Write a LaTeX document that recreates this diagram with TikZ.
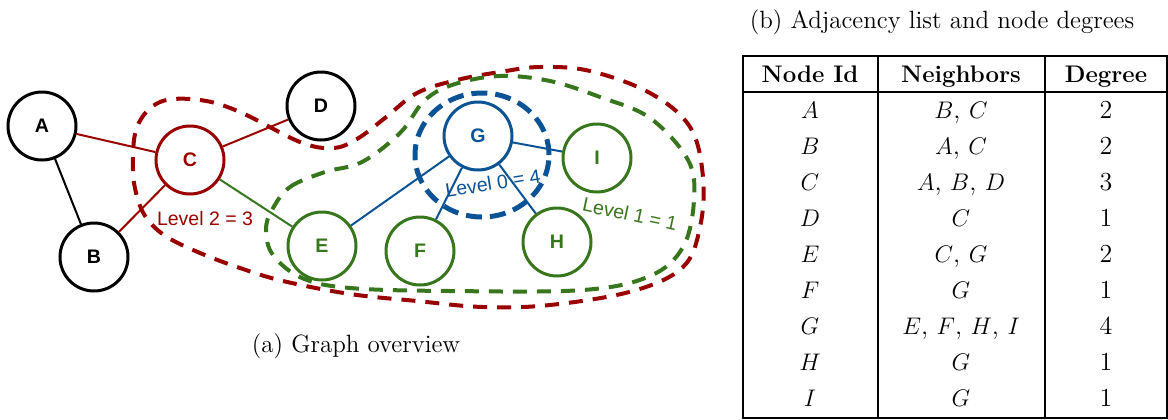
\documentclass[tikz,border=0pt]{standalone}
\usepackage{fontspec}
\setsansfont{Liberation Sans}
\definecolor{dred}{HTML}{990000}
\definecolor{dgreen}{HTML}{38761D}
\definecolor{dblue}{HTML}{0B5394}
\begin{document}
\begin{tikzpicture}[x=0.5pt,y=-0.5pt,
  gnode/.style={circle, draw, line width=1.5pt, minimum size=34pt, inner sep=0pt,
    font=\sffamily\bfseries\fontsize{9.8}{11}\selectfont},
  edge/.style={line width=1pt},
  lvl/.style={font=\sffamily\fontsize{9.75}{11}\selectfont, inner sep=0pt},
  reddash/.style={dred, line width=2pt, dash pattern=on 7pt off 5pt},
  greendash/.style={dgreen, line width=2pt, dash pattern=on 7pt off 5pt},
  bluedash/.style={dblue, line width=2.5pt, dash pattern=on 8pt off 4pt},
  cell/.style={anchor=base, inner sep=0pt, font=\fontsize{13}{15}\selectfont},
  capt/.style={anchor=base, inner sep=0pt, font=\fontsize{12.5}{15}\selectfont},
  hcell/.style={anchor=base, inner sep=0pt, font=\fontsize{12}{14}\selectfont\bfseries},
  tline/.style={line width=0.75pt}
]
\useasboundingbox (0,0) rectangle (1168,419);

% dashed level regions
\draw[reddash] plot[smooth cycle, tension=0.6] coordinates {
 (160,102) (200,100) (240,112) (300,142) (333,148) (357,139) (385,118) (417,93)
 (457,80) (500,72) (540,67) (590,71) (650,93) (690,127) (703,177) (700,227)
 (683,267) (633,291) (550,305) (483,307) (417,301) (350,294) (283,281) (240,268)
 (200,253) (167,237) (148,220) (138,200) (133,170) (137,127)};
\draw[greendash] plot[smooth cycle, tension=0.6] coordinates {
 (272,210) (290,187) (325,172) (362,162) (400,133) (425,100) (455,84) (500,76)
 (550,81) (600,97) (650,118) (688,160) (694,200) (683,247) (650,276) (583,290)
 (450,291) (350,288) (302,278) (273,255) (266,230)};
\draw[bluedash] (482,155) ellipse [x radius=33.5pt, y radius=31pt];

% nodes
\node[gnode] (A) at (42,126) {A};
\node[gnode] (B) at (94,257) {B};
\node[gnode, dred] (C) at (190,160) {C};
\node[gnode] (D) at (321,106) {D};
\node[gnode, dgreen] (E) at (322,246) {E};
\node[gnode, dgreen] (F) at (420,251) {F};
\node[gnode, dblue] (G) at (478,136) {G};
\node[gnode, dgreen] (H) at (557,242) {H};
\node[gnode, dgreen] (I) at (597,158) {I};

% edges
\draw[edge] (A) -- (B);
\draw[edge, dred] (A) -- (C);
\draw[edge, dred] (B) -- (C);
\draw[edge, dred] (C) -- (D);
\draw[edge, dgreen] (C) -- (E);
\draw[edge, dblue] (G) -- (E);
\draw[edge, dblue] (G) -- (F);
\draw[edge, dblue] (G) -- (H);
\draw[edge, dblue] (G) -- (I);

% level labels
\node[lvl, dred] (l2) at (205,219) {Level 2 = 3};
\node[lvl, dblue, rotate=9] (l0) at (493,183) {Level 0 = 4};
\node[lvl, dgreen, rotate=-12] (l1) at (630,214) {Level 1 = 1};

% caption (a)
\node[capt] (capa) at (356,352) {(a) Graph overview};

% table
\node[capt] (capb) at (942,28) {(b) Adjacency list and node degrees};
\draw[tline] (743,56) rectangle (1167,418);
\draw[tline] (743,92) -- (1167,92);
\draw[tline] (878,56) -- (878,418);
\draw[tline] (1045,56) -- (1045,418);
\node[hcell] (h1) at (810,82) {Node Id};
\node[hcell] (h2) at (961,82) {Neighbors};
\node[hcell] (h3) at (1106,82) {Degree};
\foreach \n/\nb/\d [count=\i from 0] in {A/{$B$, $C$}/2, B/{$A$, $C$}/2, C/{$A$, $B$, $D$}/3, D/{$C$}/1, E/{$C$, $G$}/2, F/{$G$}/1, G/{$E$, $F$, $H$, $I$}/4, H/{$G$}/1, I/{$G$}/1}{
  \node[cell] (r\i a) at (810,118+36*\i) {$\n$};
  \node[cell] (r\i b) at (961,118+36*\i) {\nb};
  \node[cell] (r\i c) at (1106,118+36*\i) {\d};
}
\end{tikzpicture}
\end{document}
